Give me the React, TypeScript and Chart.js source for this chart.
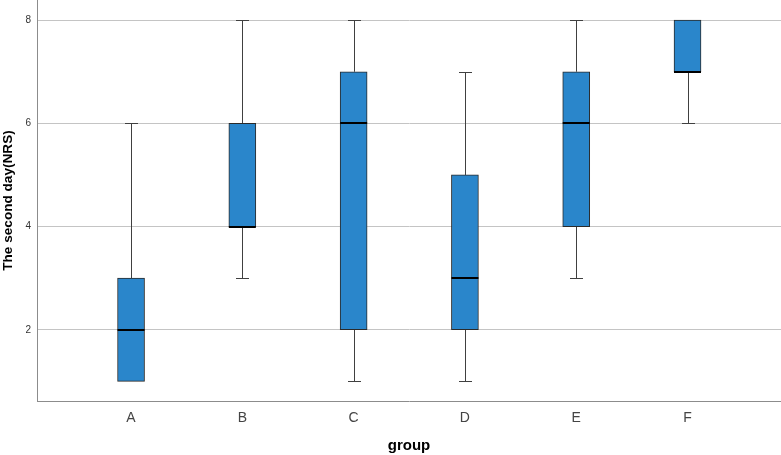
import { useEffect, useRef } from "react";
import { Chart, registerables } from "chart.js";

Chart.register(...registerables);

// Box plot summary per group (NRS scores, second day)
const groups = ["A", "B", "C", "D", "E", "F"];
const whiskerLow = [1, 3, 1, 1, 3, 6];
const quartile1 = [1, 4, 2, 2, 4, 7];
const medians = [2, 4, 6, 3, 6, 7];
const quartile3 = [3, 6, 7, 5, 7, 8];
const whiskerHigh = [6, 8, 8, 7, 8, 8];
const yTicks = [2, 4, 6, 8];

const FONT = "'Liberation Sans', Arial, sans-serif";
const BOX_FILL = "#2a86cb";
const BOX_EDGE = "#2a2a2a";
const WHISKER = "#404040";
const CAP_HALF = 6.5;

// Whiskers are drawn beneath the boxes, medians on top of them.
const boxPlotPlugin = {
  id: "boxWhiskers",
  beforeDatasetsDraw(chart: any) {
    const { ctx, scales } = chart;
    const x = scales.x;
    const y = scales.y;
    ctx.save();
    ctx.strokeStyle = WHISKER;
    ctx.lineWidth = 1;
    groups.forEach((_, i) => {
      const cx = Math.round(x.getPixelForValue(i)) + 0.5;
      const lo = Math.round(y.getPixelForValue(whiskerLow[i])) + 0.5;
      const hi = Math.round(y.getPixelForValue(whiskerHigh[i])) + 0.5;
      const q1 = y.getPixelForValue(quartile1[i]);
      const q3 = y.getPixelForValue(quartile3[i]);
      ctx.beginPath();
      if (whiskerLow[i] < quartile1[i]) {
        ctx.moveTo(cx, q1);
        ctx.lineTo(cx, lo);
        ctx.moveTo(cx - CAP_HALF, lo);
        ctx.lineTo(cx + CAP_HALF, lo);
      }
      if (whiskerHigh[i] > quartile3[i]) {
        ctx.moveTo(cx, q3);
        ctx.lineTo(cx, hi);
        ctx.moveTo(cx - CAP_HALF, hi);
        ctx.lineTo(cx + CAP_HALF, hi);
      }
      ctx.stroke();
    });
    ctx.restore();
  },
  afterDatasetsDraw(chart: any) {
    const { ctx, scales } = chart;
    const x = scales.x;
    const y = scales.y;
    const meta = chart.getDatasetMeta(0);
    ctx.save();
    ctx.strokeStyle = "#000000";
    ctx.lineWidth = 2;
    groups.forEach((_, i) => {
      const bar = meta.data[i];
      const half = bar ? bar.width / 2 : 13.5;
      const cx = x.getPixelForValue(i);
      const my = Math.round(y.getPixelForValue(medians[i]));
      ctx.beginPath();
      ctx.moveTo(cx - half, my);
      ctx.lineTo(cx + half, my);
      ctx.stroke();
    });
    ctx.restore();
  },
};

export default function App() {
  const canvasRef = useRef<HTMLCanvasElement | null>(null);

  useEffect(() => {
    const canvas = canvasRef.current;
    if (!canvas) return;
    const chart = new Chart(canvas, {
      type: "bar",
      data: {
        datasets: [
          {
            data: groups.map((_, i) => ({ x: i, y: [quartile1[i], quartile3[i]] })) as any,
            backgroundColor: BOX_FILL,
            borderColor: BOX_EDGE,
            borderWidth: 1,
            borderSkipped: false,
            barThickness: 27,
          },
        ],
      },
      options: {
        animation: false,
        responsive: true,
        maintainAspectRatio: false,
        layout: { padding: 0 },
        plugins: {
          legend: { display: false },
          tooltip: { enabled: false },
        },
        scales: {
          x: {
            type: "linear",
            offset: false,
            min: -0.845,
            max: 5.84,
            afterBuildTicks(scale: any) {
              scale.ticks = groups.map((_, i) => ({ value: i }));
            },
            afterFit(scale: any) {
              scale.height = 54;
              scale.paddingLeft = 0;
              scale.paddingRight = 0;
            },
            ticks: {
              autoSkip: false,
              maxRotation: 0,
              padding: 9,
              color: "#444444",
              font: { family: FONT, size: 14 },
              callback: (v: any) => groups[v as number] ?? "",
            },
            grid: { display: false, drawTicks: false, offset: false },
            border: { display: true, color: "#8c8c8c", width: 1 },
            title: {
              display: true,
              text: "group",
              color: "#000000",
              font: { family: FONT, size: 15, weight: "bold" },
              padding: { top: 0, bottom: 0 },
            },
          },
          y: {
            type: "linear",
            min: 0.62,
            max: 8.39,
            afterBuildTicks(scale: any) {
              scale.ticks = yTicks.map((v) => ({ value: v }));
            },
            afterFit(scale: any) {
              scale.width = 37;
              scale.paddingTop = 0;
              scale.paddingBottom = 0;
            },
            ticks: {
              padding: 6,
              color: "#333333",
              font: { family: FONT, size: 10 },
            },
            grid: { color: "#c4c4c4", lineWidth: 1, drawTicks: false },
            border: { display: true, color: "#8c8c8c", width: 1 },
            title: {
              display: true,
              text: "The second day(NRS)",
              color: "#000000",
              font: { family: FONT, size: 13.6, weight: "bold" },
              padding: { top: 0, bottom: 0 },
            },
          },
        },
      },
      plugins: [boxPlotPlugin],
    });
    return () => chart.destroy();
  }, []);

  return (
    <div
      style={{
        position: "fixed",
        left: 0,
        top: 0,
        width: 781,
        height: 455,
        background: "#ffffff",
      }}
    >
      <canvas ref={canvasRef} />
    </div>
  );
}
